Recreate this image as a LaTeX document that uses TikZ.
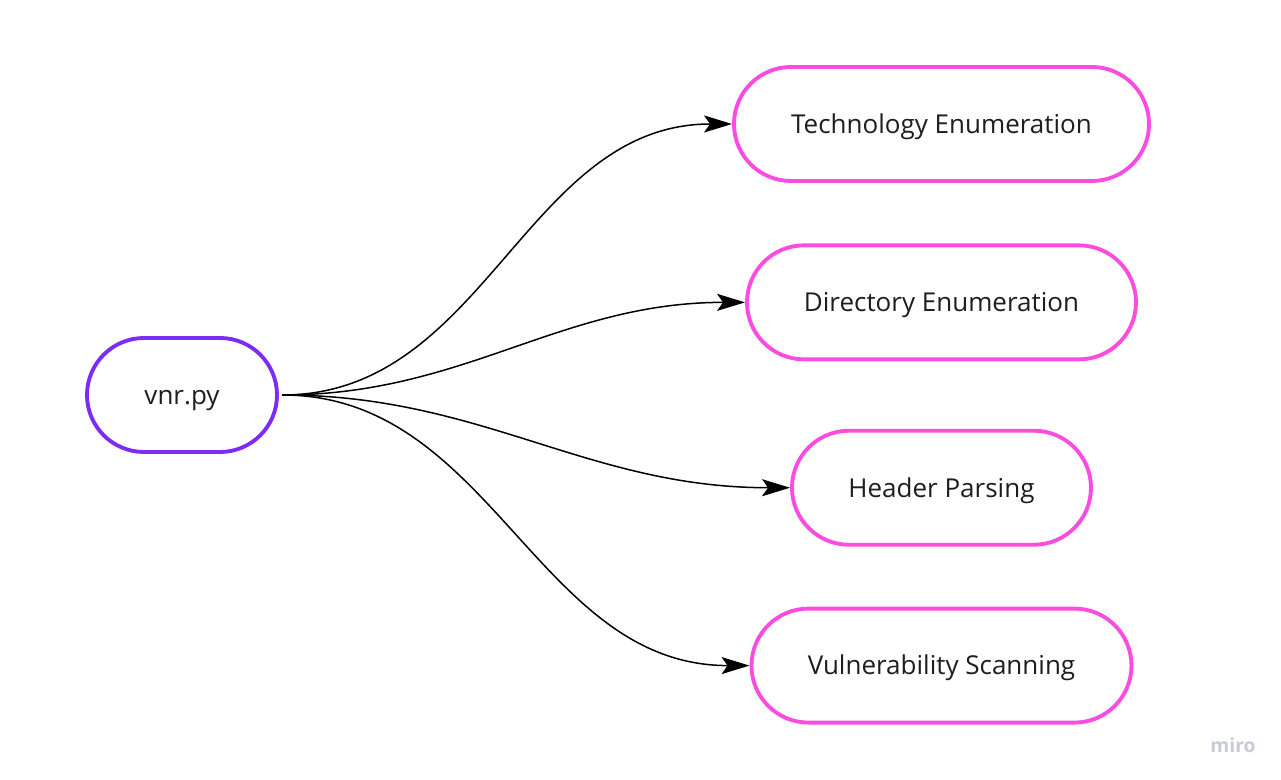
\documentclass[tikz,border=0pt]{standalone}
\usepackage{fontspec}
\setmainfont{Open Sans}
\usepackage{xcolor}
\usepackage{tikz}
\usetikzlibrary{arrows.meta, positioning}
\definecolor{rootviolet}{RGB}{124,44,246}
\definecolor{leafpink}{RGB}{250,76,224}
\definecolor{labelgray}{RGB}{30,30,34}
\definecolor{logogray}{RGB}{200,202,214}

\begin{document}
\begin{tikzpicture}[
  node distance=1.21cm,
  box/.style={rectangle, draw, rounded corners=1.14cm, minimum height=2.28cm,
              align=center, font=\fontsize{14.8}{17}\selectfont, text=labelgray,
              text height=10.6pt, text depth=0pt,
              fill=white, line width=2.2pt},
  arrow/.style={-{Stealth[length=0.56cm, width=0.34cm, inset=0.12cm]}, line width=0.85pt,
                shorten <=2pt, out=0, in=180}]

  % frame of the page
  \fill[white] (0,0) rectangle (25.62,-15.6);

  \node[box, draw=rootviolet, minimum width=3.8cm] (ROOT) at (3.64,-7.9) {vnr.py};

  \node[box, draw=leafpink, minimum width=8.3cm] (TECH) at (18.83,-2.48) {Technology Enumeration};
  \node[box, draw=leafpink, minimum width=7.78cm, below=of TECH] (DIR) {Directory Enumeration};
  \node[box, draw=leafpink, minimum width=5.98cm, below=1.35cm of DIR] (HDR) {Header Parsing};
  \node[box, draw=leafpink, minimum width=7.6cm, below=1.2cm of HDR] (VULN) {Vulnerability Scanning};

  \draw[arrow] (ROOT.east) to (TECH.west);
  \draw[arrow] (ROOT.east) to (DIR.west);
  \draw[arrow] (ROOT.east) to (HDR.west);
  \draw[arrow] (ROOT.east) to (VULN.west);

  \node[text=logogray, font=\bfseries\fontsize{11}{12}\selectfont] (LOGO) at (24.66,-14.9) {miro};
\end{tikzpicture}
\end{document}
